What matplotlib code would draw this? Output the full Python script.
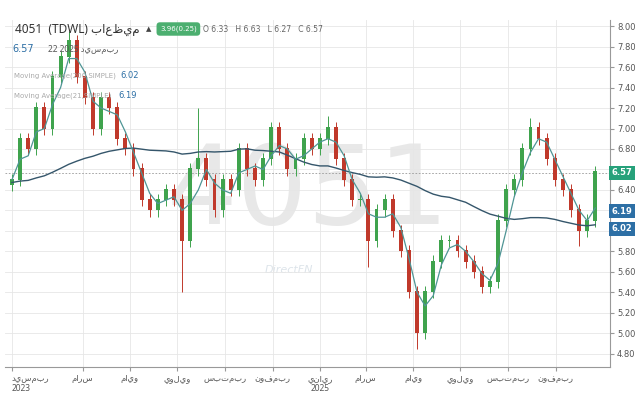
import matplotlib
matplotlib.use("Agg")
import matplotlib.pyplot as plt
import numpy as np
import pandas as pd

closes = [6.5, 6.9, 6.8, 7.2, 7.0, 7.5, 7.7, 7.85, 7.5, 7.3, 7.0, 7.3, 7.2, 6.9, 6.8, 6.6,
          6.3, 6.2, 6.3, 6.4, 6.3, 5.9, 6.6, 6.7, 6.5, 6.2, 6.5, 6.4, 6.8, 6.6, 6.5, 6.7,
          7.0, 6.8, 6.6, 6.7, 6.9, 6.8, 6.9, 7.0, 6.7, 6.5, 6.3, 6.3, 5.9, 6.2, 6.3, 6.0,
          5.8, 5.4, 5.0, 5.4, 5.7, 5.9, 5.9, 5.8, 5.7, 5.6, 5.45, 5.5, 6.1, 6.4, 6.5, 6.8,
          7.0, 6.9, 6.7, 6.5, 6.4, 6.2, 6.0, 6.1, 6.57]
history = [6.5, 6.6, 6.5, 6.4, 6.5, 6.6, 6.7, 6.6, 6.5, 6.4, 6.5, 6.6, 6.5, 6.4, 6.5,
           6.6, 6.5, 6.4, 6.5, 6.6, 6.5, 6.4, 6.3, 6.4, 6.3, 6.4, 6.3, 6.2]
spike_hi = {7: 7.95, 23: 7.2, 39: 7.12, 64: 7.1, 72: 6.63}
spike_lo = {21: 5.4, 44: 5.65, 50: 4.85, 70: 5.85}
month_labels = ["ديسمبر\n2023", "مارس", "مايو", "يوليو", "سبتمبر", "نوفمبر", "يناير\n2025",
                "مارس", "مايو", "يوليو", "سبتمبر", "نوفمبر"]
month_dates = ["2023-12-01", "2024-03-01", "2024-05-01", "2024-07-01", "2024-09-01", "2024-11-01",
               "2025-01-01", "2025-03-01", "2025-05-01", "2025-07-01", "2025-09-01", "2025-11-01"]
yticks = [4.8, 5.0, 5.2, 5.4, 5.6, 5.8, 6.0, 6.2, 6.4, 6.6, 6.8, 7.0, 7.2, 7.4, 7.6, 7.8, 8.0]

n = len(closes)
dates = pd.date_range("2023-12-01", "2025-12-22", periods=n)
c = np.array(closes)
o = np.concatenate([[6.45], c[:-1]])
hi = np.maximum(o, c) + 0.06
lo = np.minimum(o, c) - 0.06
for k, v in spike_hi.items(): hi[k] = v
for k, v in spike_lo.items(): lo[k] = v
full = pd.Series(history + closes)
ma200 = full.rolling(29).mean().values[len(history):]
ma21 = pd.Series(closes).rolling(3, min_periods=1).mean().values

fig = plt.figure(figsize=(6.4, 4.0), dpi=100)
ax = fig.add_axes([5/640, 33/400, 605/640, 347/400])
ax.set_ylim(4.67, 8.06)
ax.set_xlim(pd.Timestamp("2023-11-22"), pd.Timestamp("2026-01-10"))
ax.set_yticks(yticks)
ax.yaxis.tick_right()
ax.set_yticklabels([f"{v:.2f}" for v in yticks], fontsize=6, color="#555")
ax.set_xticks(pd.to_datetime(month_dates))
ax.set_xticklabels(month_labels, fontsize=6, color="#555", family=["Noto Sans", "DejaVu Sans"])
ax.get_xticklabels()[0].set_ha("left")
ax.grid(True, color="#e6e6e6", lw=0.6)
for s in ["top", "left"]:
    ax.spines[s].set_visible(False)
for s in ["right", "bottom"]:
    ax.spines[s].set_color("#999")
ax.tick_params(length=3, color="#999", pad=2)

up = c >= o
cols = np.where(up, "#3fa34d", "#c0392b")
w = pd.Timedelta(days=5)
ax.vlines(dates, lo, hi, colors=cols, lw=0.7, zorder=3)
ax.bar(dates, np.abs(c - o) + 0.01, bottom=np.minimum(o, c), width=w, color=cols, zorder=4)
ax.plot(dates, ma200, color="#35566b", lw=1.0, zorder=5)
ax.plot(dates, ma21, color="#4f9595", lw=0.9, zorder=5)
ax.axhline(closes[-1], color="#999", ls=(0, (2, 2)), lw=0.6)

ax.text(0.5, 0.5, "4051", transform=ax.transAxes, fontsize=80, color="#e8e8e8",
        ha="center", va="center", zorder=0)
ax.text(0.47, 0.28, "DirectFN", transform=ax.transAxes, fontsize=8, color="#dde4ea",
        ha="center", va="center", zorder=0, style="italic")

def tag(val, color):
    ax.text(1.003, val, f"{val:.2f}", transform=ax.get_yaxis_transform(), fontsize=6,
            color="white", va="center", ha="left", fontweight="bold",
            bbox=dict(boxstyle="square,pad=0.3", fc=color, ec="none"), zorder=10, clip_on=False)
tag(closes[-1], "#26a17a")
tag(6.19, "#2d6fa5")
tag(6.02, "#2d6fa5")

fam = ["Noto Sans", "DejaVu Sans"]
fig.text(15/640, 1 - 29/400, "4051  (TDWL) باعظيم", fontsize=8.5, color="#333", va="center", family=fam)
fig.text(146/640, 1 - 29/400, "▲", fontsize=5, color="#444", va="center")
fig.text(160/640, 1 - 29/400, "3.96(0.25)", fontsize=5, color="white", va="center",
         bbox=dict(boxstyle="round,pad=0.5", fc="#4caf70", ec="none"))
fig.text(203/640, 1 - 29/400, "O 6.33   H 6.63   L 6.27   C 6.57", fontsize=5.5, color="#666", va="center")
fig.text(12/640, 1 - 49/400, "6.57", fontsize=7, color="#2d6fa5", va="center")
fig.text(48/640, 1 - 49/400, "22 2025 ديسمبر", fontsize=6, color="#555", va="center", family=fam)
fig.text(14/640, 1 - 76/400, "Moving Average(200,SIMPLE)", fontsize=5, color="#aaa", va="center")
fig.text(120/640, 1 - 76/400, "6.02", fontsize=6, color="#2d6fa5", va="center")
fig.text(14/640, 1 - 96/400, "Moving Average(21,SIMPLE)", fontsize=5, color="#aaa", va="center")
fig.text(118/640, 1 - 96/400, "6.19", fontsize=6, color="#2d6fa5", va="center")

fig.savefig("out.png", dpi=100)
